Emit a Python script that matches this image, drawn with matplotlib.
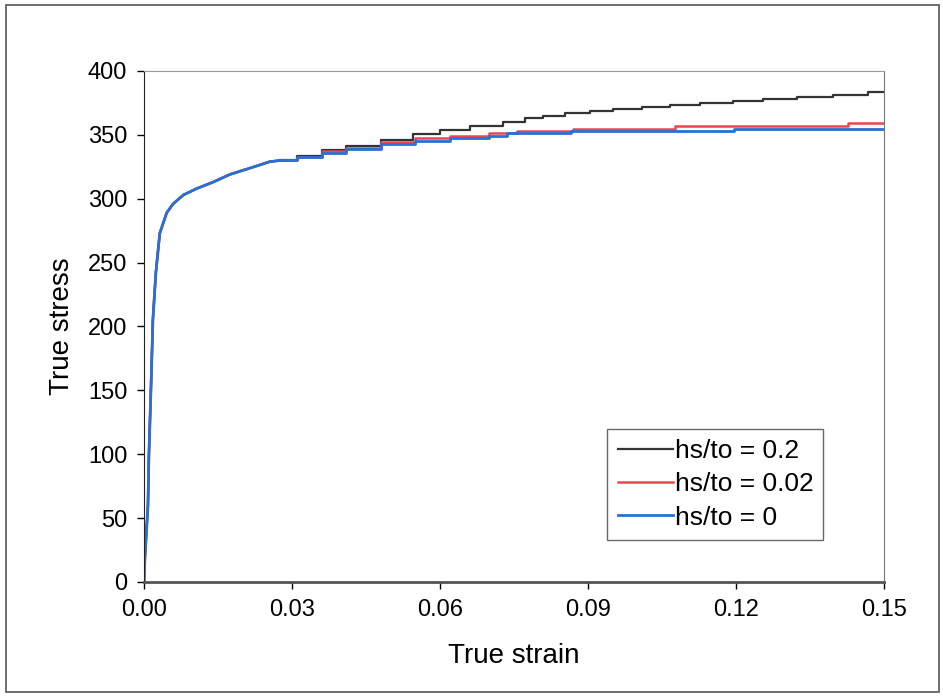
import matplotlib
matplotlib.use("Agg")
from matplotlib import pyplot as plt
from matplotlib.patches import Rectangle

plt.rcParams['font.family'] = ['Liberation Sans', 'DejaVu Sans']

# common early part of all three curves
eps_start = [0, 0.0002, 0.0005, 0.0008, 0.001, 0.0014, 0.0018, 0.0024, 0.0032,
             0.0046, 0.0059, 0.008, 0.0107, 0.014, 0.0174, 0.0215, 0.0255, 0.0276]
sig_start = [0, 20, 40, 60, 100, 150, 205, 242, 273,
             289, 296, 303, 308, 313, 319, 324, 329, 330]

# hs/to = 0.2
eps_a = [0.031, 0.036, 0.041, 0.048, 0.0545, 0.06, 0.066, 0.0728, 0.0772, 0.0809,
         0.0853, 0.0904, 0.0951, 0.101, 0.1066, 0.1127, 0.1194, 0.1255, 0.1324,
         0.1397, 0.1468, 0.15]
sig_a = [333.5, 338, 341, 346, 351, 354, 357, 360.3, 363, 364.8,
         366.9, 369, 370.5, 372.1, 373.7, 374.8, 376.3, 377.9, 379.9,
         381.5, 383.3, 383.3]

# hs/to = 0.02
eps_b = [0.031, 0.036, 0.041, 0.048, 0.055, 0.062, 0.07, 0.0756, 0.087, 0.1076, 0.1427, 0.15]
sig_b = [333, 337, 340, 344.5, 347.5, 349.5, 351.5, 353.3, 354.6, 357, 359, 359]

# hs/to = 0
eps_c = [0.031, 0.036, 0.041, 0.048, 0.055, 0.062, 0.07, 0.0735, 0.0866, 0.1195, 0.15]
sig_c = [332.5, 336, 339, 342.5, 345.5, 347.5, 349.5, 351.2, 353, 354.8, 354.8]

labels = ['hs/to = 0.2', 'hs/to = 0.02', 'hs/to = 0']
colors = ['#333333', '#e8474d', '#2a6fd6']
widths = [1.6, 1.8, 2.0]

fig = plt.figure(figsize=(9.43, 6.98), dpi=100)
ax = fig.add_axes([0.1527, 0.1662, 0.7847, 0.7321])

for tail_e, tail_s, lab, c, w in zip([eps_a, eps_b, eps_c], [sig_a, sig_b, sig_c],
                                     labels, colors, widths):
    # early rise drawn as a line, the tail with the stepped look of the original
    ax.plot(eps_start, sig_start, color=c, lw=w)
    ax.plot(eps_start[-1:] + tail_e, sig_start[-1:] + tail_s, drawstyle='steps-post',
            color=c, lw=w, label=lab)

ax.set_xlim(0, 0.15)
ax.set_ylim(0, 400)
ax.set_xticks([0, 0.03, 0.06, 0.09, 0.12, 0.15])
ax.set_xticklabels(['0.00', '0.03', '0.06', '0.09', '0.12', '0.15'])
ax.set_yticks(range(0, 401, 50))
ax.tick_params(labelsize=17, direction='out', length=5, width=1, pad=7)

ax.set_xlabel('True strain', fontsize=20, labelpad=16)
ax.set_ylabel('True stress', fontsize=20, labelpad=9)

ax.spines['left'].set_color('#222222')
ax.spines['bottom'].set_color('#555555')
ax.spines['bottom'].set_linewidth(2)
ax.spines['top'].set_color('#999999')
ax.spines['right'].set_color('#777777')

leg = ax.legend(loc='lower left', bbox_to_anchor=(0.626, 0.082, 0.292, 0.247),
                mode='expand', fontsize=19, frameon=True, fancybox=False,
                edgecolor='#444444', handlelength=2.1, handletextpad=0.05,
                borderaxespad=0, labelspacing=0.35, borderpad=0.4)
leg.get_frame().set_linewidth(1)

fig.patches.append(Rectangle((0.006, 0.008), 0.99, 0.985, transform=fig.transFigure,
                             fill=False, edgecolor='#555555', lw=1.2))

fig.savefig('out.png', dpi=100)
